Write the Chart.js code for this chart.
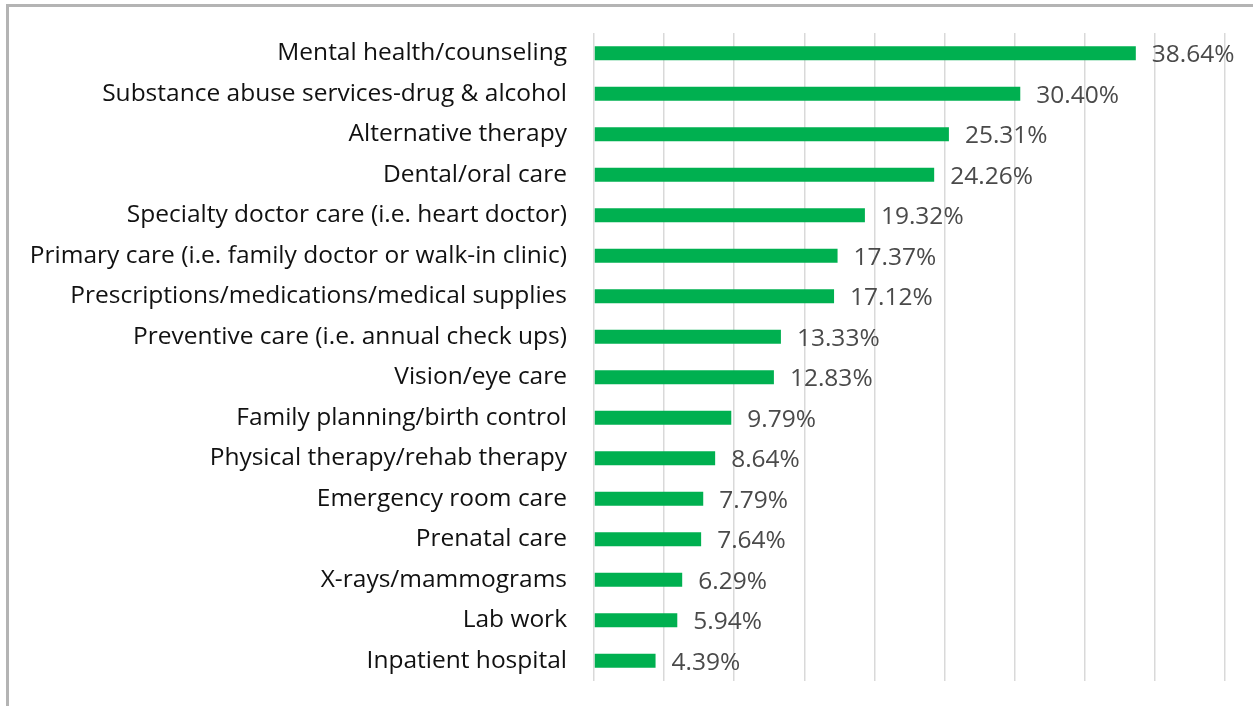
<!doctype html>
<html lang="en">
  <head>
    <meta charset="utf-8">
    <title>Services</title>
    <script src="https://cdn.jsdelivr.net/npm/chart.js"></script>
    <style>
      html, body { margin: 0; padding: 0; background: #fff; }
      body { width: 1253px; height: 706px; overflow: hidden; position: relative; }
      .frame {
        position: absolute; left: 6px; top: 4px; width: 1300px; height: 800px;
        border-left: 3px solid #b4b4b4; border-top: 3px solid #b4b4b4;
      }
      #wrap { position: absolute; left: 0; top: 0; width: 1253px; height: 706px; }
    </style>
  </head>
  <body>
    <div class="frame"></div>
    <div id="wrap"><canvas id="chart"></canvas></div>

    <script>
      const categories = [
        'Mental health/counseling',
        'Substance abuse services-drug & alcohol',
        'Alternative therapy',
        'Dental/oral care',
        'Specialty doctor care (i.e. heart doctor)',
        'Primary care (i.e. family doctor or walk-in clinic)',
        'Prescriptions/medications/medical supplies',
        'Preventive care (i.e. annual check ups)',
        'Vision/eye care',
        'Family planning/birth control',
        'Physical therapy/rehab therapy',
        'Emergency room care',
        'Prenatal care',
        'X-rays/mammograms',
        'Lab work',
        'Inpatient hospital'
      ];
      const percents = [38.64, 30.40, 25.31, 24.26, 19.32, 17.37, 17.12, 13.33,
                        12.83, 9.79, 8.64, 7.79, 7.64, 6.29, 5.94, 4.39];

      const FONT = '"Open Sans", sans-serif';

      // draw the percentage next to each bar
      const valueLabels = {
        id: 'valueLabels',
        afterDatasetsDraw(chart) {
          const ctx = chart.ctx;
          const meta = chart.getDatasetMeta(0);
          ctx.save();
          ctx.font = '24.5px ' + FONT;
          ctx.fillStyle = '#4a4a4a';
          ctx.textAlign = 'left';
          ctx.textBaseline = 'middle';
          meta.data.forEach((bar, i) => {
            ctx.fillText(percents[i].toFixed(2) + '%', bar.x + 16, bar.y + 2);
          });
          ctx.restore();
        }
      };

      new Chart(document.getElementById('chart'), {
        type: 'bar',
        data: {
          labels: categories,
          datasets: [{
            data: percents,
            backgroundColor: '#00b050',
            barPercentage: 0.7,
            categoryPercentage: 0.5
          }]
        },
        options: {
          indexAxis: 'y',
          responsive: true,
          maintainAspectRatio: false,
          animation: false,
          layout: { padding: { top: 33, bottom: 25, right: 28, left: 0 } },
          plugins: { legend: { display: false }, tooltip: { enabled: false } },
          scales: {
            x: {
              min: 0, max: 45,
              afterFit(scale) {
                scale.height = 0;
                scale.paddingLeft = 0; scale.paddingRight = 0;
                scale.paddingTop = 0; scale.paddingBottom = 0;
              },
              ticks: { display: false, stepSize: 5 },
              grid: { color: '#d9d9d9', lineWidth: 1.5, drawTicks: false },
              border: { display: false }
            },
            y: {
              afterFit(scale) {
                scale.width = 594;
                scale.paddingTop = 0; scale.paddingBottom = 0;
              },
              ticks: { color: '#111', font: { family: FONT, size: 24.5 }, padding: 19 },
              grid: { display: false },
              border: { display: false }
            }
          }
        },
        plugins: [valueLabels]
      });
    </script>
  </body>
</html>
